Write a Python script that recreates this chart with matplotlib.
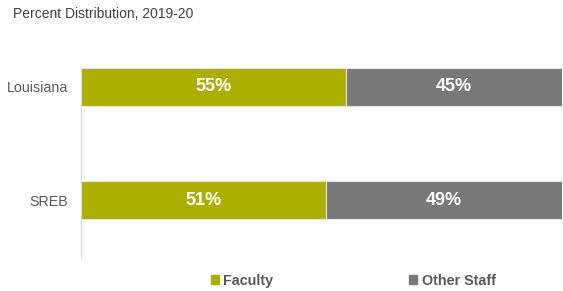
import matplotlib
matplotlib.use("Agg")
import matplotlib.pyplot as plt
from matplotlib.patches import Patch

# Data

regions = ["SREB", "Louisiana"]
faculty = [51, 55]
other_staff = [49, 45]
series_names = ["Faculty", "Other Staff"]
subtitle = "Percent Distribution, 2019-20"

faculty_color = "#adaf00"
staff_color = "#787878"
text_gray = "#595959"

plt.rcParams["font.family"] = ["Liberation Sans", "DejaVu Sans"]

fig = plt.figure(figsize=(5.63, 2.91), dpi=100)
ax = fig.add_axes([0.1439, 0.1168, 0.8543, 0.653])

y = list(range(len(regions)))
ax.barh(y, faculty, height=0.335, color=faculty_color, edgecolor="#e3e3e3", linewidth=0.8)
ax.barh(y, other_staff, left=faculty, height=0.335, color=staff_color, edgecolor="#e3e3e3", linewidth=0.8)

for i in y:
	ax.text(faculty[i] / 2, i, f"{faculty[i]}%", ha="center", va="center",
		color="white", fontsize=13, fontweight="bold")
	ax.text(faculty[i] + other_staff[i] / 2, i, f"{other_staff[i]}%", ha="center", va="center",
		color="white", fontsize=13, fontweight="bold")

ax.set_xlim(0, 100)
ax.set_ylim(-0.498, 1.176)
ax.set_yticks(y)
ax.set_yticklabels(regions, fontsize=10.3, color=text_gray)
ax.set_xticks([])
ax.tick_params(axis="y", length=0, pad=9)
for s in ["top", "right", "bottom"]:
	ax.spines[s].set_visible(False)
ax.spines["left"].set_color("#d9d9d9")
ax.spines["left"].set_linewidth(0.8)

fig.text(13 / 563, 1 - 14 / 291, subtitle, ha="left", va="center", fontsize=10,
	color="#404040", family=["Liberation Sans Narrow", "Liberation Sans", "DejaVu Sans"])

handles = [Patch(color=faculty_color), Patch(color=staff_color)]
fig.legend(handles, series_names, loc="center", bbox_to_anchor=(353 / 563, 1 - 281 / 291),
	ncol=2, frameon=False, handlelength=0.6, handleheight=0.6, handletextpad=0.3,
	columnspacing=9.45, prop={"size": 10.3, "weight": "bold"}, labelcolor=text_gray)

fig.savefig("out.png", dpi=100)
